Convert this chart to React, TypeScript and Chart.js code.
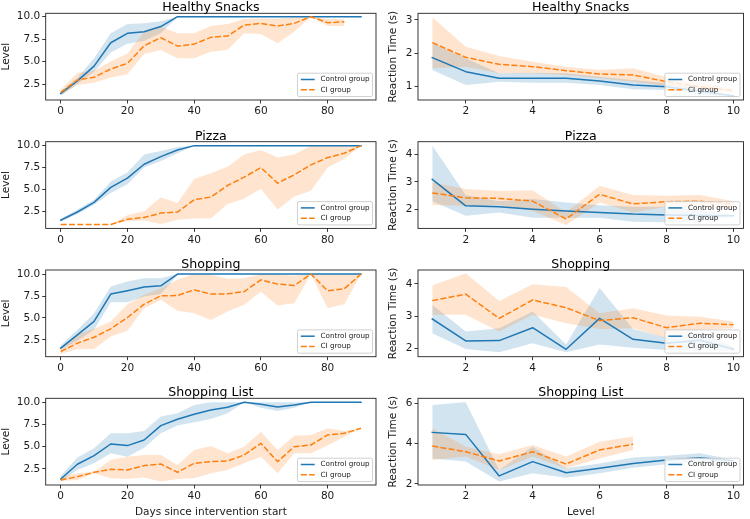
import React, { useEffect, useRef } from "react";
import { Chart, registerables } from "chart.js";

Chart.register(...registerables);

const FONT = '"DejaVu Sans", sans-serif';
const BLUE = "#1f77b4";
const ORANGE = "#ff7f0e";
const BLUE_BAND = "rgba(31,119,180,0.2)";
const ORANGE_BAND = "rgba(255,127,14,0.2)";
const TEXT = "#1a1a1a";
const TICK_FS = 10.5;
const TITLE_FS = 12.6;

// ---------- categories / ticks ----------
const days = [0, 5, 10, 15, 20, 25, 30, 35, 40, 45, 50, 55, 60, 65, 70, 75, 80, 85, 90];
const levels = [1, 2, 3, 4, 5, 6, 7, 8, 9, 10];
const dayTicks = [0, 20, 40, 60, 80];
const levelTicks = [2, 4, 6, 8, 10];
const levelYTicks = [2.5, 5, 7.5, 10];
const hsRtTicks = [1, 2, 3];
const pizzaRtTicks = [2, 3, 4];
const shopRtTicks = [2, 3, 4];
const listRtTicks = [2, 4, 6];
const legendLabels = ["Control group", "CI group"];
const panelTitles = ["Healthy Snacks", "Pizza", "Shopping", "Shopping List"];

// ---------- Healthy Snacks: level by day ----------
const hsLvlCtrl = [1.45, 2.85, 4.5, 7.1, 8.15, 8.33, 8.9, 10, 10, 10, 10, 10, 10, 10, 10, 10, 10, 10, 10];
const hsLvlCtrlLo = [1.2, 2.5, 3.87, 6.0, 7.0, 7.3, 8.15, 9.95, 10, 10, 10, 10, 10, 10, 10, 10, 10, 10, 10];
const hsLvlCtrlHi = [1.65, 3.2, 5.36, 8.15, 9.2, 9.26, 9.5, 10, 10, 10, 10, 10, 10, 10, 10, 10, 10, 10, 10];
const hsLvlCi = [1.57, 2.95, 3.25, 4.17, 4.8, 6.77, 7.66, 6.73, 6.95, 7.7, 7.85, 9.07, 9.26, 8.96, 9.26, 10, 9.33, 9.44, null];
const hsLvlCiLo = [1.25, 2.4, 2.65, 3.24, 3.6, 5.84, 6.3, 5.36, 5.36, 6.1, 6.29, 8.15, 8.07, 7.03, 8.33, 10, 8.96, 8.96, null];
const hsLvlCiHi = [1.85, 3.76, 3.98, 5.0, 5.9, 8.33, 8.9, 8.15, 8.15, 8.96, 9.18, 9.74, 9.8, 9.8, 9.9, 10, 9.74, 9.74, null];

// ---------- Healthy Snacks: reaction time by level ----------
const hsRtCtrl = [1.87, 1.45, 1.25, 1.25, 1.25, 1.17, 1.05, 1.0, 0.86, 0.72];
const hsRtCtrlLo = [1.5, 1.05, 1.15, 1.12, 1.12, 1.05, 0.92, 0.9, 0.76, 0.7];
const hsRtCtrlHi = [2.3, 1.85, 1.4, 1.42, 1.4, 1.3, 1.2, 1.1, 0.97, 0.74];
const hsRtCi = [2.32, 1.88, 1.67, 1.6, 1.48, 1.38, 1.35, 1.15, 1.0, 0.88];
const hsRtCiLo = [1.55, 1.6, 1.4, 1.4, 1.35, 1.25, 1.15, 1.02, 0.9, 0.82];
const hsRtCiHi = [3.08, 2.2, 1.92, 1.75, 1.6, 1.5, 1.55, 1.28, 1.12, 0.95];

// ---------- Pizza: level by day ----------
const pzLvlCtrl = [1.48, 2.42, 3.52, 5.23, 6.29, 7.88, 8.75, 9.5, 10, 10, 10, 10, 10, 10, 10, 10, 10, 10, 10];
const pzLvlCtrlLo = [1.3, 2.2, 3.26, 4.58, 5.6, 7.5, 8.26, 9.13, 10, 10, 10, 10, 10, 10, 10, 10, 10, 10, 10];
const pzLvlCtrlHi = [1.65, 2.7, 3.83, 5.9, 6.93, 9.0, 9.4, 9.85, 10, 10, 10, 10, 10, 10, 10, 10, 10, 10, 10];
const pzLvlCi = [1.0, 1.0, 1.0, 1.0, 1.6, 1.8, 2.3, 2.42, 3.83, 4.13, 5.45, 6.4, 7.5, 5.72, 6.67, 7.8, 8.64, 9.13, 10];
const pzLvlCiLo = [1, 1, 1, 1, 1.36, 1.44, 1.06, 1.55, 1.67, 1.67, 3.33, 3.94, 5.08, 2.7, 4.2, 4.85, 7.5, 8.48, 10];
const pzLvlCiHi = [1, 1, 1, 1, 2.05, 2.5, 4.1, 3.45, 6.2, 6.86, 7.6, 9.0, 9.5, 8.64, 9.0, 10, 10, 10, 10];

// ---------- Pizza: reaction time by level ----------
const pzRtCtrl = [3.09, 2.13, 2.1, 2.01, 1.94, 1.89, 1.83, 1.8, 1.78, 1.77];
const pzRtCtrlLo = [2.3, 1.77, 1.89, 1.7, 1.7, 1.7, 1.55, 1.53, 1.55, 1.75];
const pzRtCtrlHi = [4.32, 2.52, 2.3, 2.38, 2.25, 2.15, 2.1, 2.1, 2.0, 1.79];
const pzRtCi = [2.6, 2.42, 2.4, 2.3, 1.65, 2.55, 2.2, 2.28, 2.3, 2.2];
const pzRtCiLo = [2.16, 2.13, 2.16, 1.94, 1.43, 2.25, 1.89, 2.1, 2.1, 2.05];
const pzRtCiHi = [2.98, 2.74, 2.67, 2.7, 1.89, 2.86, 2.52, 2.5, 2.52, 2.3];

// ---------- Shopping: level by day ----------
const shLvlCtrl = [1.55, 3.07, 4.6, 7.72, 8.1, 8.52, 8.67, 10, 10, 10, 10, 10, 10, 10, 10, 10, 10, 10, 10];
const shLvlCtrlLo = [1.35, 2.39, 3.64, 6.8, 6.8, 7.45, 7.72, 9.9, 10, 10, 10, 10, 10, 10, 10, 10, 10, 10, 10];
const shLvlCtrlHi = [1.85, 3.64, 5.55, 8.6, 9.16, 9.54, 9.54, 10, 10, 10, 10, 10, 10, 10, 10, 10, 10, 10, 10];
const shLvlCi = [1.17, 2.12, 2.8, 3.76, 5.05, 6.57, 7.52, 7.56, 8.2, 7.72, 7.75, 8.0, 9.35, 8.86, 8.7, 10, 8.1, 8.33, 10];
const shLvlCiLo = [0.9, 1.47, 1.47, 2.88, 3.53, 6.12, 7.07, 5.81, 5.55, 4.78, 5.74, 6.5, 8.0, 6.42, 6.69, 10, 6.12, 6.57, 10];
const shLvlCiHi = [1.55, 3.07, 3.76, 4.6, 6.57, 7.64, 8.4, 9.35, 10, 9.92, 9.47, 9.54, 10, 9.92, 9.85, 10, 9.92, 9.92, 10];

// ---------- Shopping: reaction time by level ----------
const shRtCtrl = [2.91, 2.23, 2.24, 2.64, 1.97, 2.93, 2.28, 2.16, 2.25, 1.98];
const shRtCtrlLo = [2.47, 1.98, 1.88, 2.16, 1.88, 2.12, 2.02, 1.95, 1.95, 1.92];
const shRtCtrlHi = [3.35, 2.52, 2.62, 3.14, 2.12, 3.87, 2.6, 2.33, 2.5, 2.05];
const shRtCi = [3.48, 3.68, 2.93, 3.5, 3.26, 2.86, 2.95, 2.64, 2.78, 2.73];
const shRtCiLo = [3.04, 3.04, 2.52, 3.04, 2.78, 2.6, 2.62, 2.31, 2.57, 2.62];
const shRtCiHi = [3.95, 4.33, 3.47, 3.99, 3.9, 3.09, 3.24, 3.02, 2.98, 2.83];

// ---------- Shopping List: level by day ----------
const slLvlCtrl = [1.38, 3.03, 4.0, 5.31, 5.13, 5.76, 7.38, 8.09, 8.65, 9.14, 9.44, 10, 9.78, 9.48, 9.7, 10, 10, 10, 10];
const slLvlCtrlLo = [1.08, 2.39, 3.14, 4.26, 3.89, 4.9, 6.51, 7.38, 7.75, 8.12, 8.76, 10, 9.4, 9.03, 9.4, 10, 10, 10, 10];
const slLvlCtrlHi = [1.75, 3.78, 4.83, 6.51, 6.51, 6.78, 8.39, 8.76, 9.7, 10, 10, 10, 10, 10, 10, 10, 10, 10, 10];
const slLvlCi = [1.26, 1.64, 2.13, 2.46, 2.39, 2.88, 3.06, 2.13, 3.14, 3.33, 3.4, 4.08, 5.39, 3.33, 5.01, 5.2, 6.33, 6.51, 7.08];
const slLvlCiLo = [1.15, 1.26, 2.01, 1.45, 1.38, 1.53, 1.08, 1.38, 1.45, 2.01, 2.39, 3.14, 3.89, 2.01, 4.26, 4.26, 5.13, 6.14, 7.08];
const slLvlCiHi = [1.64, 2.01, 2.2, 3.51, 3.89, 4.08, 4.08, 2.95, 4.64, 5.09, 4.26, 5.01, 6.7, 4.64, 6.25, 6.33, 7.08, 6.78, 7.08];

// ---------- Shopping List: reaction time by level ----------
const slRtCtrl = [4.56, 4.46, 2.4, 3.11, 2.56, 2.78, 3.02, 3.19, 3.3, 3.15];
const slRtCtrlLo = [3.27, 3.11, 2.12, 2.53, 2.31, 2.53, 2.81, 2.98, 3.05, 3.1];
const slRtCtrlHi = [5.92, 6.05, 2.69, 3.85, 2.78, 3.02, 3.31, 3.4, 3.52, 3.2];
const slRtCi = [3.88, 3.6, 3.14, 3.6, 2.99, 3.69, 3.97, null, null, null];
const slRtCiLo = [3.19, 3.36, 2.69, 3.36, 2.78, 3.27, 3.69, null, null, null];
const slRtCiHi = [4.76, 3.85, 3.47, 3.93, 3.36, 4.1, 4.35, null, null, null];

// ---------- layout (positions, not data) ----------
const PLOT_TOPS = [13.3, 141.7, 270, 398.3];
const PLOT_H = 86.7;
const COLS = [
  { canvasLeft: 0, canvasW: 380, plotLeft: 45.7, plotRight: 376, yTitlePad: 1.05 },
  { canvasLeft: 383, canvasW: 367, plotLeft: 418, plotRight: 743.5, yTitlePad: 5.15 },
];

type Spec = {
  row: number;
  col: number;
  title: string;
  xs: number[];
  xTicks: number[];
  xMin: number;
  xMax: number;
  yTicks: number[];
  yDec: number;
  yMin: number;
  yMax: number;
  yTitle: string;
  xTitle?: string;
  ctrl: (number | null)[];
  ctrlLo: (number | null)[];
  ctrlHi: (number | null)[];
  ci: (number | null)[];
  ciLo: (number | null)[];
  ciHi: (number | null)[];
};

const LX = { xs: days, xTicks: dayTicks, xMin: -4.5, xMax: 94.5, yTicks: levelYTicks, yDec: 1, yTitle: "Level" };
const RX = { xs: levels, xTicks: levelTicks, xMin: 0.574, xMax: 10.3, yDec: 0, yTitle: "Reaction Time (s)" };

const specs: Spec[] = [
  { ...LX, row: 0, col: 0, title: panelTitles[0], yMin: 0.72, yMax: 10.38, ctrl: hsLvlCtrl, ctrlLo: hsLvlCtrlLo, ctrlHi: hsLvlCtrlHi, ci: hsLvlCi, ciLo: hsLvlCiLo, ciHi: hsLvlCiHi },
  { ...RX, row: 0, col: 1, title: panelTitles[0], yTicks: hsRtTicks, yMin: 0.6, yMax: 3.2, ctrl: hsRtCtrl, ctrlLo: hsRtCtrlLo, ctrlHi: hsRtCtrlHi, ci: hsRtCi, ciLo: hsRtCiLo, ciHi: hsRtCiHi },
  { ...LX, row: 1, col: 0, title: panelTitles[1], yMin: 0.55, yMax: 10.45, ctrl: pzLvlCtrl, ctrlLo: pzLvlCtrlLo, ctrlHi: pzLvlCtrlHi, ci: pzLvlCi, ciLo: pzLvlCiLo, ciHi: pzLvlCiHi },
  { ...RX, row: 1, col: 1, title: panelTitles[1], yTicks: pizzaRtTicks, yMin: 1.31, yMax: 4.46, ctrl: pzRtCtrl, ctrlLo: pzRtCtrlLo, ctrlHi: pzRtCtrlHi, ci: pzRtCi, ciLo: pzRtCiLo, ciHi: pzRtCiHi },
  { ...LX, row: 2, col: 0, title: panelTitles[2], yMin: 0.58, yMax: 10.47, ctrl: shLvlCtrl, ctrlLo: shLvlCtrlLo, ctrlHi: shLvlCtrlHi, ci: shLvlCi, ciLo: shLvlCiLo, ciHi: shLvlCiHi },
  { ...RX, row: 2, col: 1, title: panelTitles[2], yTicks: shopRtTicks, yMin: 1.74, yMax: 4.43, ctrl: shRtCtrl, ctrlLo: shRtCtrlLo, ctrlHi: shRtCtrlHi, ci: shRtCi, ciLo: shRtCiLo, ciHi: shRtCiHi },
  { ...LX, row: 3, col: 0, title: panelTitles[3], xTitle: "Days since intervention start", yMin: 0.7, yMax: 10.45, ctrl: slLvlCtrl, ctrlLo: slLvlCtrlLo, ctrlHi: slLvlCtrlHi, ci: slLvlCi, ciLo: slLvlCiLo, ciHi: slLvlCiHi },
  { ...RX, row: 3, col: 1, title: panelTitles[3], xTitle: "Level", yTicks: listRtTicks, yMin: 1.95, yMax: 6.25, ctrl: slRtCtrl, ctrlLo: slRtCtrlLo, ctrlHi: slRtCtrlHi, ci: slRtCi, ciLo: slRtCiLo, ciHi: slRtCiHi },
];

const pts = (xs: number[], ys: (number | null)[]) =>
  xs.map((x, i) => ({ x, y: ys[i] })).filter((p) => p.y !== null && p.y !== undefined);

const decor = {
  id: "decor",
  afterDraw(chart: any, _args: any, opts: any) {
    const { ctx, chartArea: a } = chart;
    ctx.save();
    // frame (all four spines)
    ctx.strokeStyle = "#222";
    ctx.lineWidth = 0.9;
    ctx.setLineDash([]);
    ctx.strokeRect(a.left, a.top, a.right - a.left, a.bottom - a.top);
    // title
    ctx.fillStyle = "#000";
    ctx.font = `${TITLE_FS}px ${FONT}`;
    ctx.textAlign = "center";
    ctx.textBaseline = "alphabetic";
    ctx.fillText(opts.title, (a.left + a.right) / 2, a.top - 2.2);
    // legend
    const fs = 7.2;
    ctx.font = `${fs}px ${FONT}`;
    const entries = legendLabels
      .map((l) => chart.data.datasets.find((d: any) => d.label === l))
      .filter(Boolean);
    const textW = Math.max(...entries.map((e: any) => ctx.measureText(e.label).width));
    const pad = 0.4 * fs;
    const handle = 2 * fs;
    const gap = 0.8 * fs;
    const w = pad + handle + gap + textW + pad;
    const rowH = 10.3;
    const h = rowH * entries.length + 2.7;
    const x0 = a.right - 3.5 - w;
    const y0 = a.bottom - 3.5 - h;
    ctx.beginPath();
    if (ctx.roundRect) ctx.roundRect(x0, y0, w, h, 1.6);
    else ctx.rect(x0, y0, w, h);
    ctx.fillStyle = "rgba(255,255,255,0.8)";
    ctx.fill();
    ctx.strokeStyle = "#cccccc";
    ctx.lineWidth = 0.9;
    ctx.stroke();
    entries.forEach((e: any, i: number) => {
      const cy = y0 + 6.3 + i * rowH;
      ctx.beginPath();
      ctx.setLineDash(e.borderDash || []);
      ctx.strokeStyle = e.borderColor;
      ctx.lineWidth = 1.5;
      ctx.lineCap = "butt";
      ctx.moveTo(x0 + pad + 0.5, cy);
      ctx.lineTo(x0 + pad + handle, cy);
      ctx.stroke();
      ctx.setLineDash([]);
      ctx.fillStyle = TEXT;
      ctx.textAlign = "left";
      ctx.textBaseline = "middle";
      ctx.fillText(e.label, x0 + pad + handle + gap, cy);
    });
    ctx.restore();
  },
};

function Panel({ spec }: { spec: Spec }) {
  const ref = useRef<HTMLCanvasElement>(null);
  const col = COLS[spec.col];
  const plotTop = PLOT_TOPS[spec.row];
  const canvasTop = Math.floor(plotTop - 13);
  const padTop = plotTop - canvasTop;
  const isBottom = spec.row === 3;
  const canvasH = isBottom ? 519 - canvasTop : 120;
  const xAxisH = canvasH - padTop - PLOT_H;
  const yAxisW = col.plotLeft - col.canvasLeft;
  const padRight = col.canvasLeft + col.canvasW - col.plotRight;

  useEffect(() => {
    const line = (label: string, data: any, color: string, dash: number[]) => ({
      label,
      data,
      borderColor: color,
      borderWidth: 1.5,
      borderDash: dash,
      borderCapStyle: dash.length ? "butt" : "square",
      borderJoinStyle: "round",
      pointRadius: 0,
      fill: false,
      tension: 0,
    });
    const band = (data: any, color: string | null) => ({
      label: "",
      data,
      borderWidth: 0,
      borderColor: "transparent",
      backgroundColor: color || "transparent",
      pointRadius: 0,
      fill: color ? "+1" : false,
      tension: 0,
    });
    const datasets: any[] = [
      line("CI group", pts(spec.xs, spec.ci), ORANGE, [6, 2.3]),
      line("Control group", pts(spec.xs, spec.ctrl), BLUE, []),
      band(pts(spec.xs, spec.ciHi), ORANGE_BAND),
      band(pts(spec.xs, spec.ciLo), null),
      band(pts(spec.xs, spec.ctrlHi), BLUE_BAND),
      band(pts(spec.xs, spec.ctrlLo), null),
    ];
    const tickFont = { family: FONT, size: TICK_FS };
    const grid = {
      display: true,
      drawOnChartArea: false,
      drawTicks: true,
      tickLength: 3.5,
      tickWidth: 0.9,
      tickColor: "#222",
    };
    const chart = new Chart(ref.current as HTMLCanvasElement, {
      type: "line",
      data: { datasets },
      plugins: [decor],
      options: {
        animation: false,
        responsive: false,
        maintainAspectRatio: false,
        events: [],
        layout: { padding: { top: padTop, left: 0, right: padRight, bottom: 0 } },
        plugins: {
          legend: { display: false },
          tooltip: { enabled: false },
          title: { display: false },
          decor: { title: spec.title },
        } as any,
        scales: {
          x: {
            type: "linear",
            min: spec.xMin,
            max: spec.xMax,
            afterBuildTicks: (s: any) => {
              s.ticks = spec.xTicks.map((v) => ({ value: v }));
            },
            afterFit: (s: any) => {
              s.height = xAxisH;
            },
            grid,
            border: { display: false },
            ticks: {
              font: tickFont,
              color: TEXT,
              padding: 1.8,
              maxRotation: 0,
              autoSkip: false,
              callback: (v: any) => String(v),
            },
            title: {
              display: !!spec.xTitle,
              text: spec.xTitle || "",
              color: TEXT,
              font: { family: FONT, size: TICK_FS, lineHeight: 1 },
              padding: { top: 0, bottom: 1.25 },
            },
          },
          y: {
            type: "linear",
            min: spec.yMin,
            max: spec.yMax,
            afterBuildTicks: (s: any) => {
              s.ticks = spec.yTicks.map((v) => ({ value: v }));
            },
            afterFit: (s: any) => {
              s.width = yAxisW;
            },
            grid,
            border: { display: false },
            ticks: {
              font: tickFont,
              color: TEXT,
              padding: 2,
              autoSkip: false,
              callback: (v: any) => Number(v).toFixed(spec.yDec),
            },
            title: {
              display: true,
              text: spec.yTitle,
              color: TEXT,
              font: { family: FONT, size: TICK_FS, lineHeight: 1 },
              padding: { top: col.yTitlePad, bottom: 0 },
            },
          },
        },
      } as any,
    });
    return () => chart.destroy();
  }, []);

  return (
    <canvas
      ref={ref}
      width={col.canvasW}
      height={canvasH}
      style={{
        position: "absolute",
        left: col.canvasLeft,
        top: canvasTop,
        width: col.canvasW,
        height: canvasH,
      }}
    />
  );
}

export default function App() {
  return (
    <div
      style={{
        position: "fixed",
        left: 0,
        top: 0,
        width: 750,
        height: 519,
        background: "#fff",
        overflow: "hidden",
      }}
    >
      {specs.map((s, i) => (
        <Panel key={i} spec={s} />
      ))}
    </div>
  );
}
